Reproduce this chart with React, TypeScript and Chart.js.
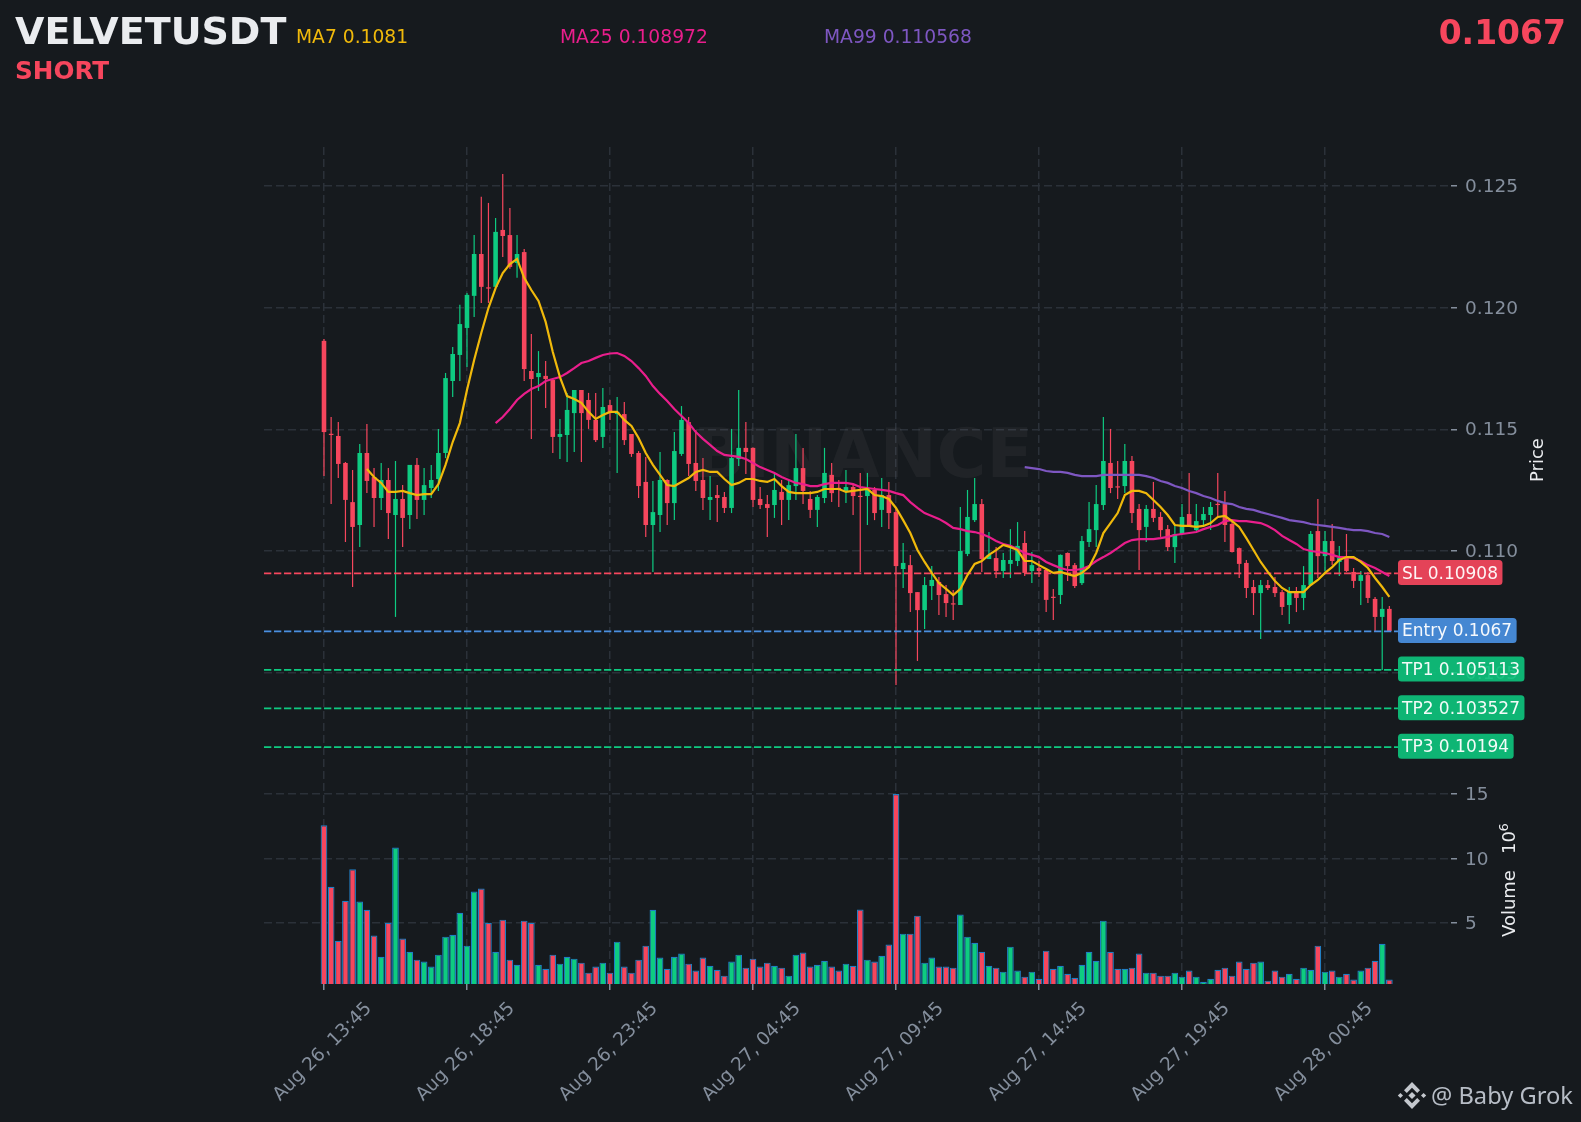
import React, { useEffect, useRef } from "react";
import { Chart, registerables } from "chart.js";

Chart.register(...registerables);

const opens = [
0.11864,0.11481,0.11473,0.11362,0.11201,0.11107,0.11403,0.11304,0.11218,0.11292,
0.11148,0.11214,0.11148,0.11354,0.11210,0.11259,0.11296,0.11403,0.11699,0.11806,
0.11917,0.12049,0.12221,0.12081,0.12086,0.12320,0.12299,0.12184,0.12229,0.11740,
0.11715,0.11720,0.11703,0.11469,0.11477,0.11567,0.11662,0.11621,0.11539,0.11469,
0.11600,0.11563,0.11563,0.11481,0.11403,0.11284,0.11107,0.11148,0.11292,0.11197,
0.11399,0.11530,0.11362,0.11292,0.11210,0.11230,0.11222,0.11177,0.11378,0.11424,
0.11424,0.11214,0.11193,0.11189,0.11243,0.11210,0.11267,0.11341,0.11214,0.11169,
0.11218,0.11313,0.11259,0.11243,0.11263,0.11225,0.11226,0.11251,0.11169,0.11230,
0.11160,0.10926,0.10942,0.10831,0.10757,0.10856,0.10873,0.10823,0.10782,0.10778,
0.10988,0.11127,0.11193,0.10967,0.10971,0.10918,0.10947,0.10959,0.11033,0.10918,
0.10930,0.10922,0.10811,0.10819,0.10992,0.10942,0.10868,0.11037,0.11086,0.11189,
0.11362,0.11263,0.11267,0.11370,0.11173,0.11099,0.11173,0.11140,0.11090,0.11016,
0.11070,0.11152,0.11086,0.11127,0.11148,0.11193,0.11193,0.11111,0.11012,0.10951,
0.10852,0.10827,0.10860,0.10852,0.10831,0.10778,0.10831,0.10807,0.10860,0.11082,
0.10979,0.11041,0.10955,0.10979,0.10914,0.10877,0.10901,0.10803,0.10729,0.10762,
];

const closes = [
0.11489,0.11477,0.11358,0.11210,0.11099,0.11403,0.11288,0.11218,0.11292,0.11156,
0.11214,0.11136,0.11354,0.11210,0.11271,0.11292,0.11403,0.11711,0.11810,0.11933,
0.12053,0.12221,0.12086,0.12079,0.12312,0.12295,0.12168,0.12221,0.11748,0.11707,
0.11732,0.11707,0.11469,0.11481,0.11580,0.11662,0.11567,0.11539,0.11456,0.11592,
0.11567,0.11572,0.11456,0.11399,0.11267,0.11107,0.11160,0.11292,0.11197,0.11411,
0.11539,0.11358,0.11288,0.11218,0.11222,0.11218,0.11177,0.11382,0.11424,0.11407,
0.11210,0.11189,0.11177,0.11251,0.11210,0.11271,0.11341,0.11247,0.11169,0.11222,
0.11321,0.11238,0.11255,0.11263,0.11226,0.11222,0.11251,0.11156,0.11230,0.11156,
0.10938,0.10951,0.10827,0.10757,0.10860,0.10881,0.10819,0.10786,0.10780,0.11000,
0.11140,0.11193,0.10967,0.10984,0.10918,0.10963,0.10963,0.11021,0.10910,0.10942,
0.10918,0.10799,0.10807,0.10984,0.10938,0.10856,0.11041,0.11090,0.11193,0.11370,
0.11259,0.11261,0.11370,0.11156,0.11086,0.11173,0.11136,0.11086,0.11016,0.11070,
0.11140,0.11103,0.11123,0.11152,0.11181,0.11189,0.11107,0.10996,0.10947,0.10848,
0.10827,0.10860,0.10848,0.10827,0.10770,0.10831,0.10807,0.10860,0.11070,0.10979,
0.11041,0.10959,0.10971,0.10918,0.10877,0.10901,0.10807,0.10729,0.10762,0.10671,
];

const highs = [
0.11872,0.11551,0.11530,0.11366,0.11333,0.11440,0.11522,0.11341,0.11362,0.11341,
0.11370,0.11271,0.11354,0.11382,0.11341,0.11354,0.11502,0.11732,0.11839,0.12012,
0.12061,0.12299,0.12456,0.12431,0.12369,0.12550,0.12410,0.12299,0.12242,0.11892,
0.11822,0.11781,0.11711,0.11543,0.11650,0.11662,0.11662,0.11650,0.11650,0.11670,
0.11621,0.11633,0.11613,0.11481,0.11411,0.11387,0.11288,0.11407,0.11295,0.11489,
0.11596,0.11551,0.11498,0.11382,0.11308,0.11271,0.11243,0.11502,0.11662,0.11530,
0.11426,0.11263,0.11230,0.11325,0.11292,0.11292,0.11481,0.11424,0.11247,0.11230,
0.11424,0.11362,0.11292,0.11333,0.11271,0.11321,0.11321,0.11263,0.11300,0.11284,
0.11177,0.11033,0.10984,0.10831,0.10893,0.10938,0.10893,0.10860,0.10840,0.11181,
0.11251,0.11300,0.11214,0.11078,0.11016,0.10992,0.11090,0.11119,0.11082,0.10996,
0.10959,0.10924,0.10844,0.10986,0.10994,0.10951,0.11062,0.11201,0.11271,0.11551,
0.11502,0.11370,0.11440,0.11391,0.11193,0.11189,0.11284,0.11160,0.11107,0.11107,
0.11193,0.11321,0.11193,0.11181,0.11201,0.11321,0.11247,0.11127,0.11014,0.10963,
0.10881,0.10881,0.10881,0.10893,0.10840,0.10852,0.10852,0.10938,0.11082,0.11214,
0.11082,0.11111,0.11021,0.11070,0.10930,0.10918,0.10914,0.10811,0.10811,0.10774,
];

const lows = [
0.11308,0.11193,0.11300,0.11037,0.10852,0.11016,0.11238,0.11099,0.11169,0.11049,
0.10729,0.11016,0.11090,0.11132,0.11148,0.11218,0.11247,0.11382,0.11633,0.11699,
0.11757,0.11962,0.12020,0.12020,0.12080,0.12209,0.12160,0.12123,0.11699,0.11461,
0.11658,0.11588,0.11403,0.11378,0.11366,0.11407,0.11366,0.11502,0.11448,0.11424,
0.11539,0.11321,0.11436,0.11387,0.11218,0.11058,0.10914,0.11078,0.11107,0.11127,
0.11391,0.11308,0.11247,0.11169,0.11127,0.11119,0.11156,0.11156,0.11350,0.11317,
0.11181,0.11173,0.11058,0.11136,0.11107,0.11127,0.11210,0.11193,0.11136,0.11099,
0.11197,0.11201,0.11181,0.11197,0.11148,0.10914,0.11107,0.11127,0.11099,0.11090,
0.10449,0.10848,0.10749,0.10548,0.10679,0.10799,0.10737,0.10729,0.10716,0.10778,
0.10979,0.11119,0.10914,0.10967,0.10889,0.10889,0.10889,0.10938,0.10897,0.10868,
0.10893,0.10749,0.10716,0.10782,0.10877,0.10848,0.10860,0.11016,0.11016,0.11169,
0.11238,0.11214,0.11238,0.11115,0.10922,0.11037,0.11119,0.11058,0.11000,0.10951,
0.11068,0.11099,0.11082,0.11107,0.11086,0.11136,0.11037,0.10994,0.10889,0.10807,
0.10737,0.10638,0.10840,0.10811,0.10737,0.10700,0.10749,0.10757,0.10858,0.10889,
0.10918,0.10942,0.10897,0.10914,0.10848,0.10778,0.10786,0.10671,0.10511,0.10670,
];

const volumes = [
12.57,7.8,3.6,6.7,9.15,6.64,6.0,4.0,2.36,5.0,
10.84,3.77,2.75,2.13,1.98,1.59,2.52,3.92,4.07,5.78,
3.22,7.42,7.65,5.0,2.75,5.24,2.13,1.74,5.16,5.0,
1.74,1.43,2.52,1.82,2.36,2.21,1.9,1.12,1.59,1.9,
1.12,3.53,1.59,1.12,2.13,3.22,6.0,2.29,1.43,2.36,
2.6,1.82,1.28,2.29,1.66,1.35,0.89,1.98,2.52,1.51,
2.21,1.59,1.9,1.66,1.51,0.89,2.52,2.68,1.59,1.74,
2.05,1.59,1.28,1.82,1.66,6.02,2.13,1.98,2.44,3.3,
15,4.15,4.15,5.55,1.9,2.29,1.59,1.59,1.51,5.63,
3.92,3.45,2.75,1.66,1.51,1.2,3.14,1.28,0.81,1.2,
0.65,2.83,1.43,1.66,1.04,0.73,1.74,2.75,2.05,5.16,
2.75,1.43,1.43,1.51,2.6,1.12,1.12,0.89,0.89,1.12,
0.81,1.28,0.81,0.42,0.65,1.35,1.51,0.89,1.98,1.43,
1.9,1.98,0.5,1.28,0.81,1.04,0.65,1.51,1.35,3.22,
1.2,1.28,0.81,1.04,0.58,1.28,1.51,2.05,3.37,0.58,
];

const ma7 = [
null,null,null,null,null,null,0.11337,0.11304,0.11280,0.11243,
0.11243,0.11247,0.11238,0.11230,0.11234,0.11234,0.11275,0.11354,0.11448,0.11526,
0.11662,0.11785,0.11896,0.11999,0.12081,0.12143,0.12180,0.12201,0.12123,0.12073,
0.12028,0.11942,0.11818,0.11715,0.11637,0.11625,0.11609,0.11572,0.11543,0.11559,
0.11572,0.11572,0.11539,0.11514,0.11465,0.11403,0.11354,0.11313,0.11271,0.11267,
0.11284,0.11300,0.11325,0.11333,0.11325,0.11325,0.11296,0.11271,0.11280,0.11296,
0.11296,0.11288,0.11284,0.11296,0.11267,0.11243,0.11238,0.11238,0.11238,0.11243,
0.11255,0.11255,0.11255,0.11243,0.11247,0.11251,0.11255,0.11230,0.11226,0.11214,
0.11177,0.11127,0.11074,0.11004,0.10955,0.10910,0.10868,0.10844,0.10819,0.10844,
0.10901,0.10947,0.10959,0.10984,0.11004,0.11025,0.11016,0.11004,0.10959,0.10959,
0.10942,0.10926,0.10910,0.10914,0.10905,0.10897,0.10910,0.10934,0.10992,0.11074,
0.11115,0.11156,0.11230,0.11247,0.11247,0.11238,0.11210,0.11181,0.11148,0.11107,
0.11103,0.11103,0.11099,0.11103,0.11115,0.11140,0.11144,0.11123,0.11099,0.11053,
0.11004,0.10955,0.10914,0.10877,0.10848,0.10831,0.10831,0.10831,0.10860,0.10881,
0.10910,0.10934,0.10963,0.10975,0.10975,0.10955,0.10930,0.10889,0.10852,0.10811,
];

const ma25 = [
null,null,null,null,null,null,null,null,null,null,
null,null,null,null,null,null,null,null,null,null,
null,null,null,null,0.11526,0.11551,0.11584,0.11621,0.11646,0.11666,
0.11678,0.11699,0.11707,0.11715,0.11732,0.11752,0.11773,0.11781,0.11794,0.11806,
0.11812,0.11814,0.11802,0.11781,0.11752,0.11720,0.11678,0.11646,0.11617,0.11584,
0.11555,0.11526,0.11489,0.11461,0.11436,0.11411,0.11395,0.11391,0.11387,0.11378,
0.11362,0.11345,0.11333,0.11321,0.11304,0.11292,0.11280,0.11275,0.11267,0.11267,
0.11275,0.11280,0.11280,0.11280,0.11275,0.11263,0.11259,0.11255,0.11251,0.11247,
0.11238,0.11230,0.11201,0.11177,0.11156,0.11144,0.11132,0.11115,0.11095,0.11090,
0.11082,0.11078,0.11070,0.11058,0.11041,0.11029,0.11021,0.11008,0.10992,0.10984,
0.10975,0.10955,0.10942,0.10930,0.10922,0.10922,0.10926,0.10938,0.10959,0.10975,
0.10992,0.11012,0.11033,0.11045,0.11049,0.11049,0.11049,0.11053,0.11058,0.11066,
0.11070,0.11074,0.11078,0.11090,0.11099,0.11107,0.11123,0.11127,0.11123,0.11123,
0.11119,0.11115,0.11103,0.11086,0.11062,0.11045,0.11029,0.11008,0.11000,0.10996,
0.10992,0.10984,0.10975,0.10975,0.10971,0.10959,0.10942,0.10930,0.10914,0.10897,
];

const ma99 = [
...new Array(98).fill(null),
0.11345,0.11341,
0.11337,0.11329,0.11325,0.11325,0.11321,0.11313,0.11308,0.11308,0.11308,0.11313,
0.11313,0.11313,0.11313,0.11313,0.11313,0.11308,0.11300,0.11288,0.11280,0.11267,
0.11259,0.11247,0.11238,0.11226,0.11218,0.11206,0.11197,0.11193,0.11181,0.11173,
0.11169,0.11160,0.11152,0.11144,0.11136,0.11127,0.11123,0.11119,0.11111,0.11107,
0.11103,0.11099,0.11095,0.11090,0.11086,0.11086,0.11082,0.11074,0.11070,0.11058,
];

const tickIndices = [0, 20, 40, 60, 80, 100, 120, 140];
const tickLabels = [
  "Aug 26, 13:45", "Aug 26, 18:45", "Aug 26, 23:45", "Aug 27, 04:45",
  "Aug 27, 09:45", "Aug 27, 14:45", "Aug 27, 19:45", "Aug 28, 00:45",
];
const priceTicks = [0.105, 0.11, 0.115, 0.12, 0.125];
const volumeTicks = [5, 10, 15];

const levelNames = ["SL", "Entry", "TP1", "TP2", "TP3"];
const levelPrices = [0.10908, 0.1067, 0.105113, 0.103527, 0.10194];
const levelTexts = ["0.10908", "0.1067", "0.105113", "0.103527", "0.10194"];
const levelColors = ["#F6465D", "#4A90E2", "#0ECB81", "#0ECB81", "#0ECB81"];
const levelBadges = ["rgba(246,70,93,0.92)", "rgba(74,144,226,0.92)", "rgba(14,203,129,0.88)", "rgba(14,203,129,0.88)", "rgba(14,203,129,0.88)"];

const BG = "#161A1E";
const UP = "#0ECB81";
const DOWN = "#F6465D";
const GRID = "#2B3139";
const MUTED = "#848E9C";
const FONT = "'DejaVu Sans'";

const xFrom = -8.39;
const xTo = 157.62;
const levelEnd = 150.2;

function text(ctx: CanvasRenderingContext2D, s: string, x: number, y: number, font: string, color: string) {
  ctx.font = font;
  ctx.fillStyle = color;
  ctx.textAlign = "left";
  ctx.textBaseline = "alphabetic";
  ctx.fillText(s, x, y);
}

function rotated(ctx: CanvasRenderingContext2D, s: string, x: number, y: number, font: string, color: string) {
  ctx.save();
  ctx.translate(x, y);
  ctx.rotate(-Math.PI / 2);
  text(ctx, s, 0, 0, font, color);
  ctx.restore();
}

function poly(ctx: CanvasRenderingContext2D, pts: number[][]) {
  ctx.beginPath();
  pts.forEach((p, i) => (i ? ctx.lineTo(p[0], p[1]) : ctx.moveTo(p[0], p[1])));
  ctx.closePath();
  ctx.fill();
}

const decorPlugin = {
  id: "decor",
  beforeDatasetsDraw(chart: any) {
    const ctx = chart.ctx as CanvasRenderingContext2D;
    ctx.save();
    ctx.font = `bold 68px ${FONT}`;
    ctx.fillStyle = "rgba(255,255,255,0.045)";
    ctx.textAlign = "center";
    ctx.textBaseline = "alphabetic";
    ctx.fillText("BINANCE", 863, 477);
    ctx.restore();
  },
  afterDraw(chart: any) {
    const ctx = chart.ctx as CanvasRenderingContext2D;
    const py = chart.scales.price;
    ctx.save();
    text(ctx, "VELVETUSDT", 15, 43.5, `bold 38px ${FONT}`, "#EAECEF");
    text(ctx, "SHORT", 15, 79, `bold 24.7px ${FONT}`, DOWN);
    text(ctx, "MA7 0.1081", 296, 43, `18.7px ${FONT}`, "#F0B90B");
    text(ctx, "MA25 0.108972", 560, 43, `18.7px ${FONT}`, "#E91E8C");
    text(ctx, "MA99 0.110568", 824, 43, `18.7px ${FONT}`, "#7E57C2");
    ctx.font = `bold 33px ${FONT}`;
    ctx.fillStyle = DOWN;
    ctx.textAlign = "right";
    ctx.fillText("0.1067", 1566, 44);

    levelNames.forEach((name, i) => {
      const label = `${name} ${levelTexts[i]}`;
      const y = py.getPixelForValue(levelPrices[i]) - 0.8;
      ctx.font = `17px ${FONT}`;
      const w = ctx.measureText(label).width + 8.5;
      ctx.fillStyle = levelBadges[i];
      ctx.beginPath();
      ctx.roundRect(1398, y - 12.5, w, 25, 3.5);
      ctx.fill();
      text(ctx, label, 1402, y + 6, `17px ${FONT}`, "rgba(255,255,255,0.95)");
    });

    rotated(ctx, "Price", 1542.5, 482, `18px ${FONT}`, "#EAECEF");
    rotated(ctx, "Volume", 1515, 937, `18px ${FONT}`, "#EAECEF");
    rotated(ctx, "10", 1515, 854, `18px ${FONT}`, "#EAECEF");
    rotated(ctx, "6", 1508, 831.5, `13px ${FONT}`, "#EAECEF");

    // footer mark
    ctx.fillStyle = "#C4C8CE";
    const c = [1412, 1095.5];
    const d = (x: number, y: number, r: number) => poly(ctx, [[x - r, y], [x, y - r], [x + r, y], [x, y + r]]);
    d(c[0], c[1], 3.6);
    d(c[0] - 11.6, c[1], 2.6);
    d(c[0] + 11.6, c[1], 2.6);
    poly(ctx, [[c[0] - 8, c[1] - 5.2], [c[0], c[1] - 13.4], [c[0] + 8, c[1] - 5.2], [c[0] + 5.2, c[1] - 2.6], [c[0], c[1] - 7.8], [c[0] - 5.2, c[1] - 2.6]]);
    poly(ctx, [[c[0] - 8, c[1] + 5.2], [c[0], c[1] + 13.4], [c[0] + 8, c[1] + 5.2], [c[0] + 5.2, c[1] + 2.6], [c[0], c[1] + 7.8], [c[0] - 5.2, c[1] + 2.6]]);
    text(ctx, "@ Baby Grok", 1431, 1104, "23.7px 'Noto Sans'", "#B7BDC6");
    ctx.restore();
  },
};

export default function App() {
  const ref = useRef<HTMLCanvasElement>(null);

  useEffect(() => {
    document.body.style.margin = "0";
    document.body.style.background = BG;
    const idx = opens.map((_, i) => i);
    const barColors = idx.map((i) => (closes[i] >= opens[i] ? UP : DOWN));

    const line = (values: (number | null)[], color: string) => ({
      type: "line" as const,
      data: values.map((y, x) => ({ x, y })),
      yAxisID: "price",
      borderColor: color,
      backgroundColor: color,
      borderWidth: 2.2,
      pointRadius: 0,
      tension: 0,
      spanGaps: false,
      order: 1,
    });

    const levels = levelPrices.map((p, i) => ({
      type: "line" as const,
      data: [{ x: xFrom, y: p }, { x: levelEnd, y: p }],
      yAxisID: "price",
      borderColor: levelColors[i],
      borderWidth: 1.7,
      borderDash: [7.3, 2.7],
      pointRadius: 0,
      order: 2,
    }));

    const chart = new Chart(ref.current!, {
      type: "bar",
      data: {
        datasets: [
          {
            label: "wicks",
            data: idx.map((x) => ({ x, y: [lows[x], highs[x]] })),
            yAxisID: "price",
            backgroundColor: barColors,
            barThickness: 1.2,
            borderWidth: 0,
            grouped: false,
            inflateAmount: 0,
            order: 5,
          },
          {
            label: "bodies",
            data: idx.map((x) => ({ x, y: [opens[x], closes[x]] })),
            yAxisID: "price",
            backgroundColor: barColors,
            barThickness: 4.6,
            borderWidth: 0,
            grouped: false,
            minBarLength: 1.2,
            inflateAmount: 0,
            order: 4,
          },
          {
            label: "volume",
            data: idx.map((x) => ({ x, y: volumes[x] })),
            yAxisID: "volume",
            backgroundColor: barColors,
            borderColor: "#1F7FC4",
            borderWidth: 1.2,
            barThickness: 6.7,
            grouped: false,
            inflateAmount: 0,
            order: 4,
          },
          ...levels,
          line(ma7, "#F0B90B"),
          line(ma25, "#E91E8C"),
          line(ma99, "#7E57C2"),
        ],
      } as any,
      options: {
        responsive: false,
        animation: false,
        devicePixelRatio: 1,
        layout: { padding: { left: 264, top: 147, right: 0, bottom: 0 } },
        font: { family: FONT },
        plugins: { legend: { display: false }, tooltip: { enabled: false } },
        scales: {
          x: {
            type: "linear",
            min: xFrom,
            max: xTo,
            offset: false,
            grid: { offset: false, color: GRID, lineWidth: 1.5, tickLength: 6, tickColor: MUTED, tickWidth: 1.5 },
            border: { display: false, dash: [8, 4] },
            afterBuildTicks: (s: any) => {
              s.ticks = tickIndices.map((value) => ({ value }));
            },
            afterFit: (s: any) => {
              s.height = 138;
            },
            ticks: {
              autoSkip: false,
              maxRotation: 45,
              minRotation: 45,
              labelOffset: 45,
              padding: 8,
              color: MUTED,
              font: { size: 18.5, family: FONT },
              callback: (v: any) => tickLabels[tickIndices.indexOf(v)],
            },
          },
          price: {
            type: "linear",
            position: "right",
            stack: "panels",
            stackWeight: 647,
            min: 0.10001,
            max: 0.12661,
            grid: { color: GRID, lineWidth: 1.5, tickLength: 6, tickColor: MUTED, tickWidth: 1.5 },
            border: { display: false, dash: [8, 4] },
            afterBuildTicks: (s: any) => {
              s.ticks = priceTicks.map((value) => ({ value }));
            },
            afterFit: (s: any) => {
              s.width = 130;
            },
            ticks: {
              padding: 8,
              labelOffset: 1.2,
              color: MUTED,
              font: { size: 18.5, family: FONT },
              callback: (v: any) => Number(v).toFixed(3),
            },
          },
          volume: {
            type: "linear",
            position: "right",
            stack: "panels",
            stackWeight: 190,
            min: 0.24,
            max: 15,
            grid: { color: GRID, lineWidth: 1.5, tickLength: 6, tickColor: MUTED, tickWidth: 1.5 },
            border: { display: false, dash: [8, 4] },
            afterBuildTicks: (s: any) => {
              s.ticks = volumeTicks.map((value) => ({ value }));
            },
            afterFit: (s: any) => {
              s.width = 130;
            },
            ticks: {
              padding: 8,
              labelOffset: 1.5,
              color: MUTED,
              font: { size: 18.5, family: FONT },
              callback: (v: any) => String(v),
            },
          },
        },
      } as any,
      plugins: [decorPlugin as any],
    });
    return () => chart.destroy();
  }, []);

  return (
    <div style={{ position: "fixed", left: 0, top: 0, width: 1581, height: 1122, background: BG, overflow: "hidden" }}>
      <canvas ref={ref} width={1581} height={1122} style={{ display: "block", width: 1581, height: 1122 }} />
    </div>
  );
}
